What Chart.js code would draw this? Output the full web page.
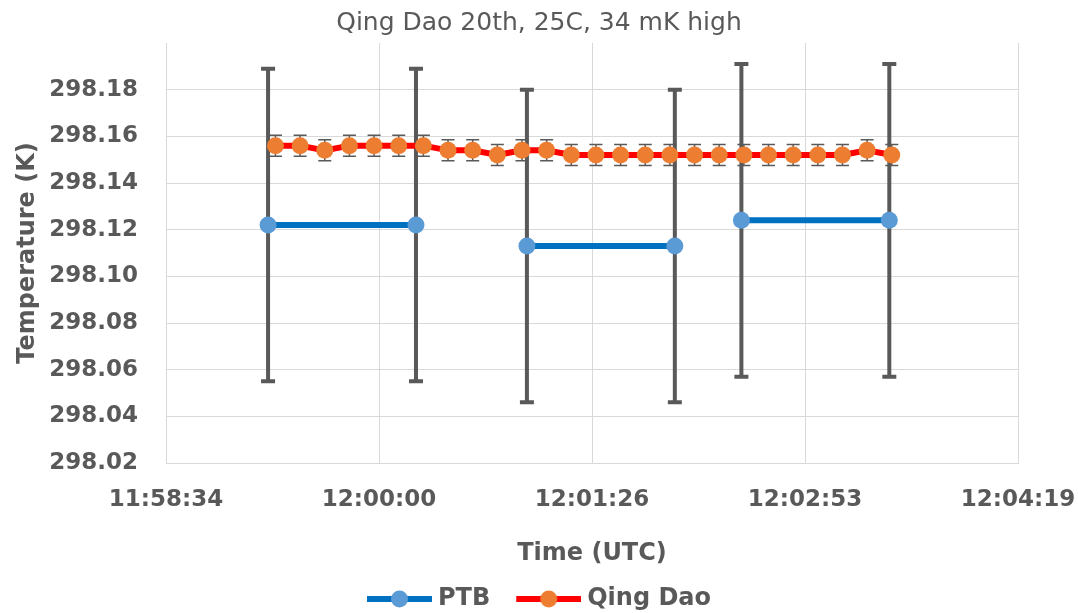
<!DOCTYPE html>
<html>
<head>
<meta charset="utf-8">
<title>Qing Dao 20th, 25C, 34 mK high</title>
<script src="https://cdn.jsdelivr.net/npm/chart.js@4.4.1/dist/chart.umd.min.js"></script>
<style>
    html, body { margin: 0; padding: 0; background: #ffffff; }
    #wrap { width: 1078px; height: 613px; }
</style>
</head>
<body>
<div id="wrap"><canvas id="tempChart"></canvas></div>
<script>
// PTB readings, joined in pairs
const ptbTimes = ['11:59:15', '12:00:15', '12:01:00', '12:02:00', '12:02:27', '12:03:27'];
const ptbTemps = [298.122, 298.122, 298.113, 298.113, 298.124, 298.124];
const ptbErrors = [0.067, 0.067, 0.067, 0.067, 0.067, 0.067];
const ptbJoinNext = [true, false, true, false, true];

// Qing Dao readings, every 10 s
const qdTimes = [
    '11:59:18', '11:59:28', '11:59:38', '11:59:48', '11:59:58',
    '12:00:08', '12:00:18', '12:00:28', '12:00:38', '12:00:48', '12:00:58',
    '12:01:08', '12:01:18', '12:01:28', '12:01:38', '12:01:48', '12:01:58',
    '12:02:08', '12:02:18', '12:02:28', '12:02:38', '12:02:48', '12:02:58',
    '12:03:08', '12:03:18', '12:03:28'
];
const qdTemps = [
    298.156, 298.156, 298.154, 298.156, 298.156,
    298.156, 298.156, 298.154, 298.154, 298.152, 298.154,
    298.154, 298.152, 298.152, 298.152, 298.152, 298.152,
    298.152, 298.152, 298.152, 298.152, 298.152, 298.152,
    298.152, 298.154, 298.152
];
const qdErrors = [
    0.0045, 0.0045, 0.0045, 0.0045, 0.0045,
    0.0045, 0.0045, 0.0045, 0.0045, 0.0045, 0.0045,
    0.0045, 0.0045, 0.0045, 0.0045, 0.0045, 0.0045,
    0.0045, 0.0045, 0.0045, 0.0045, 0.0045, 0.0045,
    0.0045, 0.0045, 0.0045
];

// Axis ticks (seconds since midnight / kelvin)
const xTickValues = [43113.6, 43200, 43286.4, 43372.8, 43459.2];
const yTickValues = [298.02, 298.04, 298.06, 298.08, 298.10, 298.12, 298.14, 298.16, 298.18];

const textColor = '#595959';
const gridColor = '#d9d9d9';
const fontFamily = '"DejaVu Sans", sans-serif';

function toSec(t) {
    const [h, m, s] = t.split(':').map(Number);
    return h * 3600 + m * 60 + s;
}

function fmtTime(v) {
    const s = Math.round(v);
    const pad = n => String(n).padStart(2, '0');
    return pad(Math.floor(s / 3600)) + ':' + pad(Math.floor(s / 60) % 60) + ':' + pad(s % 60);
}

// legend swatch: line with a marker in the middle
function legendIcon(lineColor, markerColor) {
    const c = document.createElement('canvas');
    c.width = 71;
    c.height = 20;
    const g = c.getContext('2d');
    g.strokeStyle = lineColor;
    g.lineWidth = 6;
    g.beginPath();
    g.moveTo(6, 10);
    g.lineTo(71, 10);
    g.stroke();
    g.fillStyle = markerColor;
    g.beginPath();
    g.arc(38.5, 10, 8.5, 0, Math.PI * 2);
    g.fill();
    return c;
}

const legendIcons = [legendIcon('#0070c0', '#5b9bd5'), legendIcon('#ff0000', '#ed7d31')];

// Error bars, drawn just before each dataset so markers sit on top
const errorBarPlugin = {
    id: 'errorBars',
    beforeDatasetDraw(chart, args) {
        const ds = chart.data.datasets[args.index];
        if (!ds.errors) return;
        const yScale = chart.scales.y;
        const ctx = chart.ctx;
        ctx.save();
        ctx.strokeStyle = ds.errorColor;
        ctx.lineWidth = ds.errorWidth;
        args.meta.data.forEach((pt, i) => {
            const v = ds.data[i].y;
            const e = ds.errors[i];
            const top = yScale.getPixelForValue(v + e);
            const bot = yScale.getPixelForValue(v - e);
            const cap = ds.errorCap;
            ctx.beginPath();
            ctx.moveTo(pt.x, top);
            ctx.lineTo(pt.x, bot);
            ctx.moveTo(pt.x - cap, top);
            ctx.lineTo(pt.x + cap, top);
            ctx.moveTo(pt.x - cap, bot);
            ctx.lineTo(pt.x + cap, bot);
            ctx.stroke();
        });
        ctx.restore();
    }
};

const ctx = document.getElementById('tempChart').getContext('2d');
const tempChart = new Chart(ctx, {
    type: 'line',
    data: {
        datasets: [{
            label: 'PTB',
            data: ptbTimes.map((t, i) => ({ x: toSec(t), y: ptbTemps[i] })),
            errors: ptbErrors,
            errorColor: '#595959',
            errorWidth: 4,
            errorCap: 7,
            borderColor: '#0070c0',
            borderWidth: 6,
            pointRadius: 8.5,
            pointBackgroundColor: '#5b9bd5',
            pointBorderColor: '#5b9bd5',
            pointBorderWidth: 0,
            segment: {
                borderColor: c => ptbJoinNext[c.p0DataIndex] ? '#0070c0' : 'transparent'
            },
            order: 2
        }, {
            label: 'Qing Dao',
            data: qdTimes.map((t, i) => ({ x: toSec(t), y: qdTemps[i] })),
            errors: qdErrors,
            errorColor: '#595959',
            errorWidth: 1.5,
            errorCap: 6.5,
            borderColor: '#ff0000',
            borderWidth: 6,
            pointRadius: 8.5,
            pointBackgroundColor: '#ed7d31',
            pointBorderColor: '#ed7d31',
            pointBorderWidth: 0,
            order: 1
        }]
    },
    options: {
        responsive: true,
        maintainAspectRatio: false,
        animation: false,
        layout: {
            padding: { left: 0, right: 0, top: 0, bottom: -8 }
        },
        plugins: {
            title: {
                display: true,
                text: 'Qing Dao 20th, 25C, 34 mK high',
                color: textColor,
                font: { family: fontFamily, size: 25, weight: 'normal' },
                padding: { top: 8, bottom: 5 }
            },
            legend: {
                position: 'bottom',
                labels: {
                    usePointStyle: true,
                    pointStyleWidth: 59,
                    padding: 26,
                    color: textColor,
                    font: { family: fontFamily, size: 24, weight: 'bold' },
                    sort: (a, b) => a.datasetIndex - b.datasetIndex,
                    generateLabels(chart) {
                        const items = Chart.defaults.plugins.legend.labels.generateLabels(chart);
                        items.forEach(it => { it.pointStyle = legendIcons[it.datasetIndex]; });
                        return items;
                    }
                }
            },
            tooltip: { enabled: false }
        },
        scales: {
            x: {
                type: 'linear',
                min: xTickValues[0],
                max: xTickValues[xTickValues.length - 1],
                afterBuildTicks: scale => { scale.ticks = xTickValues.map(v => ({ value: v })); },
                afterFit: scale => {
                    scale.height = 98;
                    scale.paddingRight = 60;
                },
                ticks: {
                    color: textColor,
                    font: { family: fontFamily, size: 23, weight: 'bold' },
                    padding: 23,
                    maxRotation: 0,
                    autoSkip: false,
                    callback: v => fmtTime(v)
                },
                grid: { color: gridColor, lineWidth: 1, drawTicks: false },
                border: { color: gridColor, width: 1 },
                title: {
                    display: true,
                    text: 'Time (UTC)',
                    color: textColor,
                    font: { family: fontFamily, size: 24, weight: 'bold', lineHeight: 0.6 },
                    padding: { top: 0, bottom: 0 }
                }
            },
            y: {
                min: 298.02,
                max: 298.2,
                afterBuildTicks: scale => { scale.ticks = yTickValues.map(v => ({ value: v })); },
                afterFit: scale => { scale.width = 166; },
                ticks: {
                    color: textColor,
                    font: { family: fontFamily, size: 23, weight: 'bold' },
                    padding: 28,
                    callback: v => v.toFixed(2)
                },
                grid: { color: gridColor, lineWidth: 1, drawTicks: false },
                border: { color: gridColor, width: 1 },
                title: {
                    display: true,
                    text: 'Temperature (K)',
                    color: textColor,
                    font: { family: fontFamily, size: 24, weight: 'bold' },
                    padding: { top: 13, bottom: 0 }
                }
            }
        }
    },
    plugins: [errorBarPlugin]
});
</script>
</body>
</html>
